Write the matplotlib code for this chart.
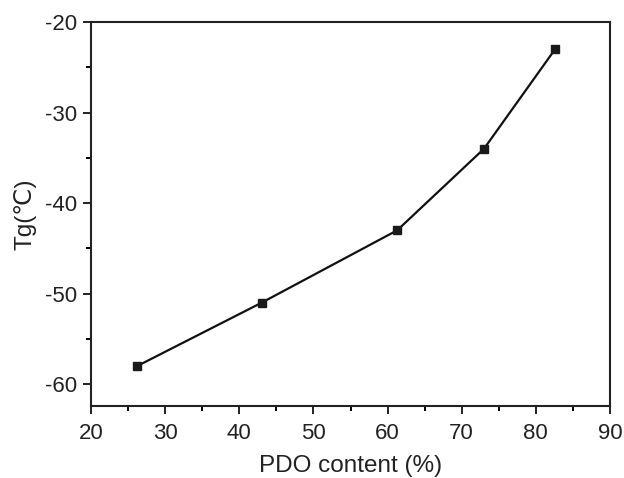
import matplotlib
matplotlib.use("Agg")
import matplotlib.pyplot as plt
from matplotlib.ticker import MultipleLocator

plt.rcParams["font.family"] = ["Liberation Sans", "DejaVu Sans"]
plt.rcParams["axes.unicode_minus"] = False

pdo_content = [26.2, 43.0, 61.3, 73.0, 82.6]
tg_values = [-58, -51, -43, -34, -23]

fig = plt.figure(figsize=(6.24, 4.78), dpi=100)
ax = fig.add_axes([91 / 624, 1 - 406 / 478, 519 / 624, 384 / 478])

ax.plot(pdo_content, tg_values, color="#111111", lw=1.6, marker="s",
        markersize=6, markerfacecolor="#1a1a1a", markeredgecolor="#1a1a1a")

ax.set_xlim(20, 90)
ax.set_ylim(-62.4, -20)
ax.xaxis.set_major_locator(MultipleLocator(10))
ax.xaxis.set_minor_locator(MultipleLocator(5))
ax.yaxis.set_major_locator(MultipleLocator(10))
ax.yaxis.set_minor_locator(MultipleLocator(5))
ax.tick_params(which="major", direction="out", length=6, width=1.4,
               labelsize=16, colors="#222222", pad=4)
ax.tick_params(axis="x", which="major", pad=6)
ax.tick_params(which="minor", direction="out", length=3.5, width=1.4)
for s in ax.spines.values():
    s.set_linewidth(1.5)
    s.set_color("#222222")

ax.set_xlabel("PDO content (%)", fontsize=17.5, color="#222222", labelpad=8)
ax.set_ylabel("Tg(℃)", fontsize=17.5, color="#222222", labelpad=6)

fig.savefig("out.png", dpi=100)
